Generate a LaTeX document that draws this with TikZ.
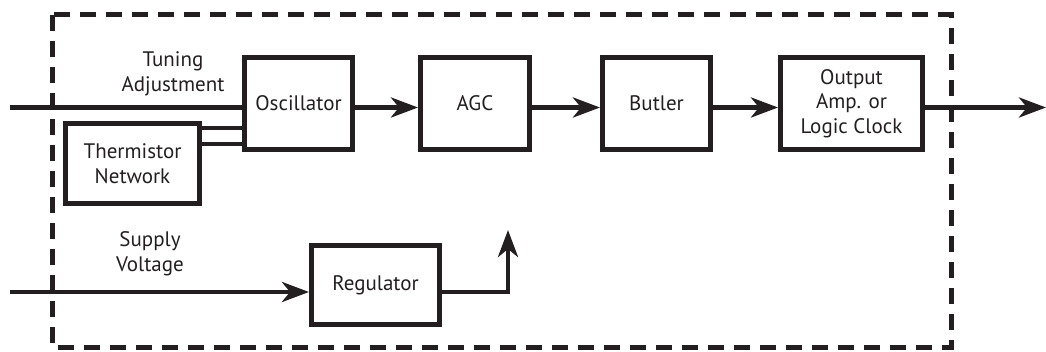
\documentclass[tikz,border=0pt]{standalone}
\usepackage{fontspec}
\setmainfont{PT Sans}
\usetikzlibrary{arrows.meta}
\definecolor{ink}{RGB}{35, 31, 32}
\tikzset{
  blk/.style={draw=ink, line width=5pt, align=center, inner sep=0pt},
  conn/.style={draw=ink, line width=4.5pt},
  arr/.style={conn, -{Stealth[length=27pt, width=20pt, inset=8pt]}},
  lbl/.style={align=center, inner sep=0pt}
}
\begin{document}
\begin{tikzpicture}[font=\fontsize{21}{24.5}\selectfont, text=ink]
\useasboundingbox (0pt, 0pt) rectangle (1046pt, -352pt);
\node (osc) [blk, minimum width=108pt, minimum height=92pt] at (298.5pt, -103.5pt) {Oscillator};
\node (agc) [blk, minimum width=109pt, minimum height=92pt] at (475.0pt, -103.5pt) {AGC};
\node (butler) [blk, minimum width=108pt, minimum height=92pt] at (656.5pt, -103.5pt) {Butler};
\node (outamp) [blk, minimum width=142pt, minimum height=92pt] at (851.5pt, -103.5pt) {Output\\Amp. or\\Logic Clock};
\node (therm) [blk, minimum width=134pt, minimum height=80pt] at (132.5pt, -163.5pt) {Thermistor\\Network};
\node (reg) [blk, minimum width=128pt, minimum height=79pt] at (375.5pt, -285.0pt) {Regulator};
\node (tuning) [lbl] at (173.0pt, -74.0pt) {Tuning\\Adjustment};
\node (supply) [lbl] at (150.0pt, -254.0pt) {Supply\\Voltage};
\coordinate (tunein) at (10.0pt, -107.5pt);
\coordinate (supplyin) at (10.0pt, -292.0pt);
\coordinate (clkout) at (1046.0pt, -107.5pt);
\coordinate (vreg) at (508.0pt, -230.0pt);
% oven boundary
\draw [draw=ink, line width=5pt, dash pattern=on 16pt off 10pt] (52pt, -15pt) rectangle (951pt, -347pt);
% signal chain
\draw [conn] (tunein) -- (tunein -| osc.west);
\draw [conn] ([yshift=35.5pt]therm.east) -- ([yshift=35.5pt]therm.east -| osc.west);
\draw [conn] ([yshift=19.5pt]therm.east) -- ([yshift=19.5pt]therm.east -| osc.west);
\draw [arr] ([yshift=-4pt]osc.east) -- ([yshift=-4pt]agc.west);
\draw [arr] ([yshift=-4pt]agc.east) -- ([yshift=-4pt]butler.west);
\draw [arr] ([yshift=-4pt]butler.east) -- ([yshift=-4pt]outamp.west);
\draw [arr] ([yshift=-4pt]outamp.east) -- (clkout);
% supply
\draw [arr] (supplyin) -- (supplyin -| reg.west);
\draw [arr] ([yshift=-7pt]reg.east) -| (vreg);
\end{tikzpicture}
\end{document}
